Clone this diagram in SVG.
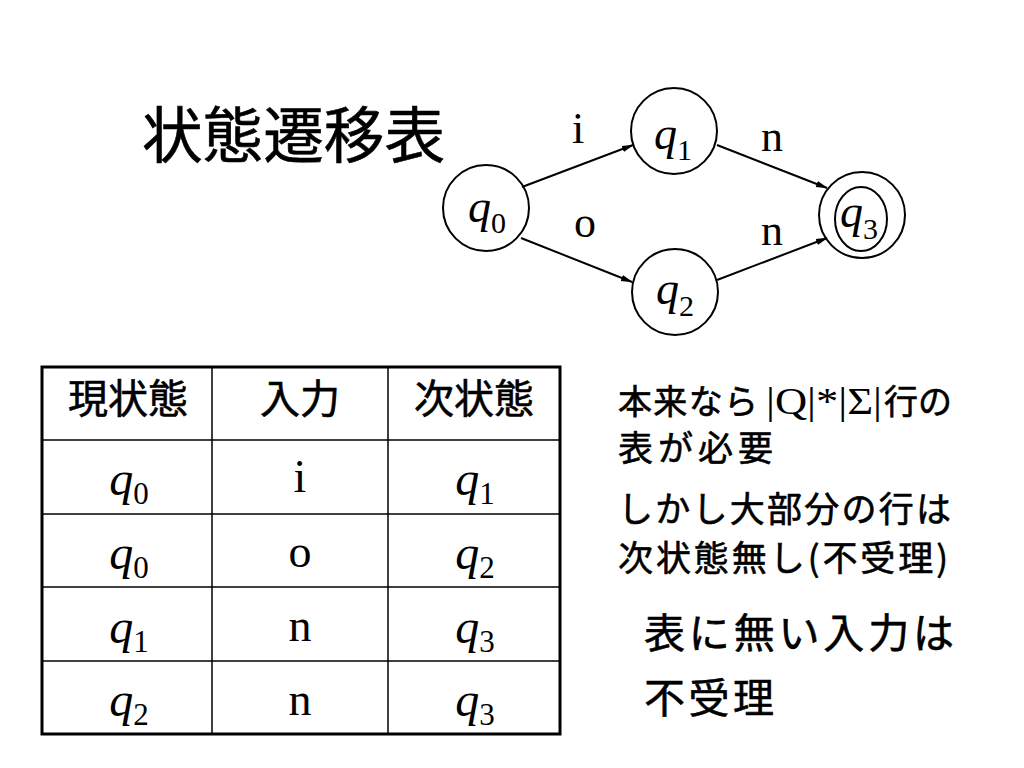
<svg xmlns="http://www.w3.org/2000/svg" width="1024" height="768" viewBox="0 0 1024 768">
<style>
.jp{font-family:"Noto Sans CJK JP","Noto Sans CJK SC",sans-serif;font-weight:400;fill:#000;stroke:#000;stroke-width:0.6}
.tm{font-family:"Liberation Serif","Times New Roman",serif;fill:#000}
.it{font-style:italic}
.node{fill:none;stroke:#000;stroke-width:2}
.edge{stroke:#000;stroke-width:2;fill:none;marker-end:url(#ah)}
.grid{stroke:#000;stroke-width:1.5}
</style>
<defs>
<marker id="ah" viewBox="0 0 12 8" refX="11" refY="4" markerWidth="12" markerHeight="8" markerUnits="userSpaceOnUse" orient="auto">
<path d="M0,0.8 L12,4 L0,7.2 Z" fill="#000"/>
</marker>
</defs>
<rect width="1024" height="768" fill="#fff"/>

<text id="title" class="jp" x="142" y="158" font-size="61" textLength="303" lengthAdjust="spacingAndGlyphs">状態遷移表</text>

<g id="connectors">
<line class="edge" x1="522" y1="187" x2="633" y2="145"/>
<line class="edge" x1="521" y1="238" x2="632" y2="282"/>
<line class="edge" x1="717" y1="145" x2="827" y2="188"/>
<line class="edge" x1="717" y1="280" x2="827" y2="238"/>
<text class="tm" x="578" y="143" font-size="44" text-anchor="middle">i</text>
<text class="tm" x="585" y="237" font-size="44" text-anchor="middle">o</text>
<text class="tm" x="772" y="151" font-size="44" text-anchor="middle">n</text>
<text class="tm" x="772" y="245" font-size="44" text-anchor="middle">n</text>
</g>

<g id="q0">
<circle class="node" cx="486" cy="208" r="43"/>
<text class="tm" x="487" y="222" font-size="46" text-anchor="middle"><tspan class="it">q</tspan><tspan font-size="30" dy="11">0</tspan></text>
</g>
<g id="q1">
<circle class="node" cx="674" cy="131" r="43"/>
<text class="tm" x="673" y="149" font-size="46" text-anchor="middle"><tspan class="it">q</tspan><tspan font-size="30" dy="11">1</tspan></text>
</g>
<g id="q2">
<circle class="node" cx="675" cy="292" r="43"/>
<text class="tm" x="675" y="304" font-size="46" text-anchor="middle"><tspan class="it">q</tspan><tspan font-size="30" dy="12">2</tspan></text>
</g>
<g id="q3">
<circle class="node" cx="862" cy="215" r="43"/>
<ellipse class="node" cx="861" cy="219" rx="26" ry="32"/>
<text class="tm" x="859" y="227" font-size="46" text-anchor="middle"><tspan class="it">q</tspan><tspan font-size="30" dy="12">3</tspan></text>
</g>

<g id="table">
<rect x="42" y="367" width="518" height="367" fill="none" stroke="#000" stroke-width="3"/>
<line class="grid" x1="212" y1="367" x2="212" y2="734"/>
<line class="grid" x1="388" y1="367" x2="388" y2="734"/>
<line class="grid" x1="42" y1="440" x2="560" y2="440"/>
<line class="grid" x1="42" y1="514" x2="560" y2="514"/>
<line class="grid" x1="42" y1="587" x2="560" y2="587"/>
<line class="grid" x1="42" y1="661" x2="560" y2="661"/>
<text class="jp" x="128" y="413" font-size="40" text-anchor="middle">現状態</text>
<text class="jp" x="300" y="413" font-size="40" text-anchor="middle">入力</text>
<text class="jp" x="474" y="413" font-size="40" text-anchor="middle">次状態</text>

<text class="tm" x="129" y="495" font-size="48" text-anchor="middle"><tspan class="it">q</tspan><tspan font-size="31" dy="9">0</tspan></text>
<text class="tm" x="300" y="492" font-size="46" text-anchor="middle">i</text>
<text class="tm" x="475" y="495" font-size="48" text-anchor="middle"><tspan class="it">q</tspan><tspan font-size="31" dy="9">1</tspan></text>

<text class="tm" x="129" y="569" font-size="48" text-anchor="middle"><tspan class="it">q</tspan><tspan font-size="31" dy="9">0</tspan></text>
<text class="tm" x="300" y="567" font-size="46" text-anchor="middle">o</text>
<text class="tm" x="475" y="569" font-size="48" text-anchor="middle"><tspan class="it">q</tspan><tspan font-size="31" dy="9">2</tspan></text>

<text class="tm" x="129" y="643" font-size="48" text-anchor="middle"><tspan class="it">q</tspan><tspan font-size="31" dy="9">1</tspan></text>
<text class="tm" x="300" y="641" font-size="46" text-anchor="middle">n</text>
<text class="tm" x="475" y="643" font-size="48" text-anchor="middle"><tspan class="it">q</tspan><tspan font-size="31" dy="9">3</tspan></text>

<text class="tm" x="129" y="716" font-size="48" text-anchor="middle"><tspan class="it">q</tspan><tspan font-size="31" dy="9">2</tspan></text>
<text class="tm" x="300" y="715" font-size="46" text-anchor="middle">n</text>
<text class="tm" x="475" y="716" font-size="48" text-anchor="middle"><tspan class="it">q</tspan><tspan font-size="31" dy="9">3</tspan></text>
</g>

<g id="notes">
<text class="jp" x="618" y="414" font-size="34"><tspan x="618" textLength="140" lengthAdjust="spacing">本来なら</tspan><tspan class="tm" x="766" font-size="38" stroke-width="0" textLength="116" lengthAdjust="spacingAndGlyphs">|Q|*|Σ|</tspan><tspan x="884" textLength="68" lengthAdjust="spacing">行の</tspan></text>
<text class="jp" x="618" y="461" font-size="35" textLength="155" lengthAdjust="spacing">表が必要</text>
<text class="jp" x="618" y="522" font-size="35" textLength="333" lengthAdjust="spacing">しかし大部分の行は</text>
<text class="jp" x="618" y="571" font-size="35" textLength="330" lengthAdjust="spacing">次状態無し(不受理)</text>
<text class="jp" x="644" y="648" font-size="41" textLength="310" lengthAdjust="spacing">表に無い入力は</text>
<text class="jp" x="644" y="713" font-size="41" textLength="130" lengthAdjust="spacing">不受理</text>
</g>
</svg>
